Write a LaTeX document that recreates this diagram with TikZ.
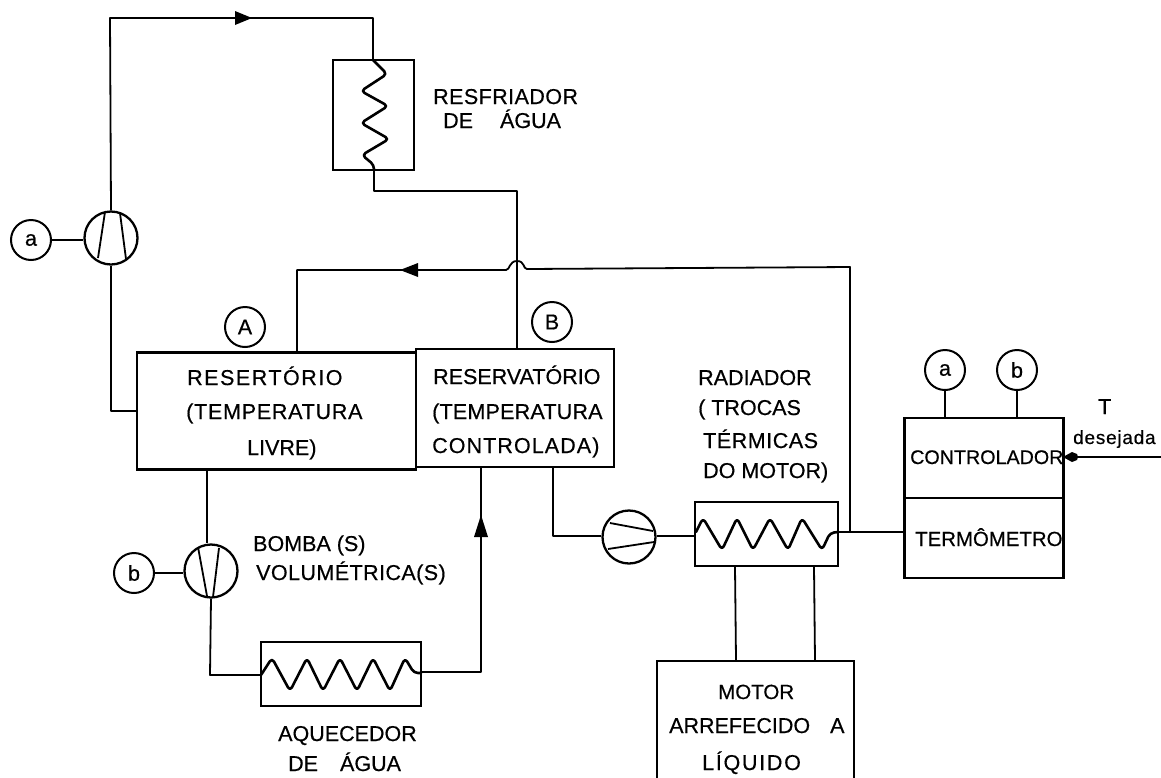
\documentclass[tikz,border=0pt]{standalone}
\usepackage{fontspec}
\setmainfont{Liberation Sans}[RawFeature={embolden=0.5}]
\tikzset{
  pipe/.style={line width=1.8pt,line join=round},
  coil/.style={line width=2.6pt,line join=round,line cap=round,rounded corners=4pt},
  box/.style={draw,line width=2.4pt,rectangle,inner sep=0pt},
  pumpc/.style={draw,circle,line width=2.3pt,minimum size=53pt,inner sep=0pt},
  sig/.style={draw,circle,line width=2pt,minimum size=40pt,inner sep=0pt,font=\fontsize{21.5}{24}\selectfont},
  lab/.style={anchor=base west,inner sep=0pt,font=\fontsize{21.5}{24}\selectfont},
  blade/.style={line width=1.8pt},
  head/.style={fill=black,draw=none}
}
\begin{document}
\begin{tikzpicture}[x=1pt,y=-1pt]
\useasboundingbox (0,0) rectangle (1161,777);
% boxes
\node[box,minimum width=81pt,minimum height=110pt] (res) at (373.5,115) {};
\node[box,minimum width=279pt,minimum height=117pt] (lbox) at (276.5,411) {};
\node[box,minimum width=198pt,minimum height=118pt] (rbox) at (515,408) {};
\node[box,minimum width=160pt,minimum height=64pt] (heat) at (341,674) {};
\node[box,minimum width=143pt,minimum height=64pt] (rad) at (766.5,534) {};
\node[box,minimum width=197pt,minimum height=140pt] (motor) at (755.5,731) {};
\node[box,minimum width=159pt,minimum height=80pt] (ctrl) at (984,458) {};
\node[box,minimum width=159pt,minimum height=80pt] (term) at (984,538) {};
% pumps
\node[pumpc] (pa) at (111,238) {};
\node[pumpc] (pb) at (211,571) {};
\node[pumpc] (pm) at (629,537) {};
% signal circles
\node[sig] (sa) at (31,240) {a};
\node[sig] (sb) at (134,573) {b};
\node[sig] (A) at (245,327) {A};
\node[sig] (B) at (552,322) {B};
\node[sig] (ca) at (945,370) {a};
\node[sig] (cb) at (1017,370) {b};
% pump blades
\draw[blade] (105,212) -- (98,258);
\draw[blade] (120,213) -- (126,259);
\draw[blade] (198,547) -- (207,596);
\draw[blade] (219,548) -- (213,597);
\draw[blade] (610,523) -- (653,531);
\draw[blade] (608,549) -- (654,542);
% coils
\draw[coil] (373,60) -- (387,74) -- (361,91) -- (388,106) -- (361,123) -- (389,139) -- (362,155) -- (374,165) -- (374,170);
\draw[coil] (261,675) -- (272,658) -- (290,691) -- (307,658) -- (323,691) -- (340,658) -- (357,691) -- (373,658) -- (390,691) -- (405,658) -- (414,673) -- (421,673);
\draw[coil] (696,532) -- (703,518) -- (722,550) -- (737,518) -- (753,550) -- (770,518) -- (788,550) -- (802,518) -- (822,550) -- (830,533) -- (838,532);
% bend coordinates
\coordinate (tl) at (110,18);
\coordinate (tr) at (373,18);
\coordinate (cb1) at (374,191);
\coordinate (cb2) at (517,191);
\coordinate (j1) at (506,270);
\coordinate (j2) at (527,269);
\coordinate (al) at (297,270);
\coordinate (ar) at (850,267);
\coordinate (tee) at (850,532);
\coordinate (rb) at (553,536);
\coordinate (hl) at (210,675);
\coordinate (hr) at (481,672);
\coordinate (inp) at (1161,457);
% connectors
\draw[pipe] (pa.north) -- (tl) -- (tr) -- (res.north -| tr);
\draw[pipe] (res.south -| cb1) -- (cb1) -- (cb2) -- (rbox.north -| cb2);
\draw[pipe] (lbox.north -| al) -- (al) -- (j1) .. controls (510,270) and (509,261) .. (517,261) .. controls (525,261) and (523,269) .. (j2) -- (ar) -- (tee);
\draw[pipe] (pa.south) |- (lbox.west);
\draw[pipe] (sa) -- (pa.west |- sa);
\draw[pipe] (sb) -- (pb.west |- sb);
\draw[pipe] (lbox.south -| 207,0) -- (pb.north -| 207,0);
\draw[pipe] (pb.south) -- (hl) -- (heat.west |- hl);
\draw[pipe] (heat.east |- hr) -- (hr) -- (rbox.south -| hr);
\draw[pipe] (rbox.south -| rb) -- (rb) -- (pm.west |- rb);
\draw[pipe] (pm.east |- rb) -- (rad.west |- rb);
\draw[pipe] (rad.east |- tee) -- (term.west |- tee);
\draw[pipe] (rad.south -| 735,0) -- (motor.north -| 736,0);
\draw[pipe] (rad.south -| 814,0) -- (motor.north -| 815,0);
\draw[pipe] (ca) -- (ctrl.north -| ca);
\draw[pipe] (cb) -- (ctrl.north -| cb);
\draw[pipe] (inp) -- (ctrl.east |- inp);
% arrowheads
\fill[head] (252,18) -- (235,11) -- (235,25) -- cycle;
\fill[head] (400,270) -- (418,263) -- (418,277) -- cycle;
\fill[head] (481,515) -- (474,537) -- (488,537) -- cycle;
\fill[head] (1063,457) -- (1072,452) -- (1077,454) -- (1078,457) -- (1077,460) -- (1072,462) -- cycle;
% labels
\node[lab] (t1) at (433,104) {\addfontfeature{LetterSpace=2}RESFRIADOR};
\node[lab] (t2) at (443,128) {DE\hspace{27pt}ÁGUA};
\node[lab] (t3) at (187,385) {\addfontfeature{LetterSpace=7}RESERTÓRIO};
\node[lab] (t4) at (186,419) {\addfontfeature{LetterSpace=3.5}(TEMPERATURA};
\node[lab] (t5) at (247,455) {LIVRE)};
\node[lab] (t6) at (433,384) {RESERVATÓRIO};
\node[lab] (t7) at (432,419) {\addfontfeature{LetterSpace=1}(TEMPERATURA};
\node[lab] (t8) at (432,453) {\addfontfeature{LetterSpace=5}CONTROLADA)};
\node[lab] (t9) at (698,385) {RADIADOR};
\node[lab] (t10) at (698,415) {( TROCAS};
\node[lab] (t11) at (703,448) {\addfontfeature{LetterSpace=2.5}TÉRMICAS};
\node[lab] (t12) at (703,478) {DO MOTOR)};
\node[lab] (t13) at (253,551) {BOMBA (S)};
\node[lab] (t14) at (256,580) {\addfontfeature{LetterSpace=2}VOLUMÉTRICA(S)};
\node[lab] (t15) at (278,741) {AQUECEDOR};
\node[lab] (t16) at (288,771) {DE\hspace{22pt}ÁGUA};
\node[lab] (t17) at (718,699) {\fontsize{20.5}{24}\selectfont MOTOR};
\node[lab] (t18) at (669,733) {ARREFECIDO\hspace{20pt}A};
\node[lab] (t19) at (702,770) {\addfontfeature{LetterSpace=8}LÍQUIDO};
\node[lab] (t20) at (910,464) {\fontsize{19.7}{24}\selectfont CONTROLADOR};
\node[lab] (t21) at (915,546) {\fontsize{20.4}{24}\selectfont TERMÔMETRO};
\node[lab] (t22) at (1098,414) {T};
\node[lab] (t23) at (1073,444) {\fontsize{19}{22}\selectfont\addfontfeature{LetterSpace=4}desejada};
\end{tikzpicture}
\end{document}
